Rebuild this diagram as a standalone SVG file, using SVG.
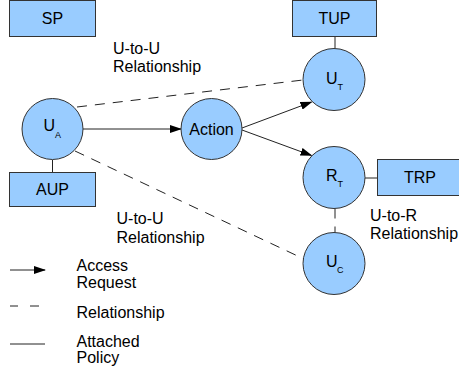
<svg xmlns="http://www.w3.org/2000/svg" width="459" height="370" viewBox="0 0 459 370">
<style>
.box{fill:#99ccff;stroke:#333;stroke-width:1}
.node{fill:#99ccff;stroke:#333;stroke-width:1}
.t{font-family:"Liberation Sans",Arial,sans-serif;font-size:16px;fill:#000}
.s{font-family:"Liberation Sans",Arial,sans-serif;font-size:9px;fill:#000}
.solid{stroke:#222;stroke-width:1;fill:none}
.dash{stroke:#222;stroke-width:1;fill:none;stroke-dasharray:10,8}
</style>
<defs>
<marker id="arr" markerWidth="12" markerHeight="8" refX="11" refY="4" orient="auto" markerUnits="userSpaceOnUse">
<path d="M0,0 L12,4 L0,8 Z" fill="#000"/>
</marker>
</defs>
<rect width="459" height="370" fill="#fff"/>
<g id="connectors">
<line class="solid" x1="52.5" y1="160" x2="52.5" y2="172"/>
<line class="solid" x1="335" y1="37" x2="335" y2="48.5"/>
<line class="solid" x1="365" y1="178" x2="377" y2="178"/>
<line class="dash" x1="335" y1="208.5" x2="335" y2="232.5"/>
<line class="dash" x1="77" y1="107" x2="303" y2="80"/>
<line class="dash" x1="75" y1="151" x2="304" y2="259"/>
<line class="solid" x1="83" y1="129" x2="181" y2="129" marker-end="url(#arr)"/>
<line class="solid" x1="242" y1="128" x2="311.5" y2="102" marker-end="url(#arr)"/>
<line class="solid" x1="242" y1="130" x2="311.5" y2="155.5" marker-end="url(#arr)"/>
</g>
<g id="SP"><rect class="box" x="9.5" y="0.5" width="86" height="36"/><text class="t" x="52.5" y="24" text-anchor="middle">SP</text></g>
<g id="AUP"><rect class="box" x="9.5" y="172.5" width="86" height="34"/><text class="t" x="52.5" y="195" text-anchor="middle">AUP</text></g>
<g id="TUP"><rect class="box" x="292.5" y="0.5" width="84" height="36"/><text class="t" x="334.5" y="24" text-anchor="middle">TUP</text></g>
<g id="TRP"><rect class="box" x="377.5" y="159.5" width="84" height="36"/><text class="t" x="420" y="183" text-anchor="middle">TRP</text></g>
<g id="UA"><circle class="node" cx="52.5" cy="129" r="30.5"/><text class="t" x="43.5" y="131">U</text><text class="s" x="55" y="138">A</text></g>
<g id="Action"><circle class="node" cx="211.5" cy="129" r="30.5"/><text class="t" x="211.5" y="135" text-anchor="middle">Action</text></g>
<g id="UT"><circle class="node" cx="334" cy="79.5" r="31"/><text class="t" x="326" y="83.5">U</text><text class="s" x="337.5" y="89.5">T</text></g>
<g id="RT"><circle class="node" cx="334" cy="177.5" r="31"/><text class="t" x="326" y="181">R</text><text class="s" x="337.5" y="187">T</text></g>
<g id="UC"><circle class="node" cx="334" cy="263.5" r="31"/><text class="t" x="326" y="266.5">U</text><text class="s" x="337" y="273">C</text></g>
<g id="labels">
<text class="t" x="113" y="54">U-to-U</text><text class="t" x="113" y="72">Relationship</text>
<text class="t" x="116.5" y="223.5">U-to-U</text><text class="t" x="116.5" y="242.5">Relationship</text>
<text class="t" x="370" y="220.5">U-to-R</text><text class="t" x="370" y="239">Relationship</text>
</g>
<g id="legend">
<line class="solid" x1="10" y1="270" x2="45" y2="270" marker-end="url(#arr)"/>
<text class="t" x="76.5" y="271">Access</text><text class="t" x="76.5" y="287.5">Request</text>
<line class="solid" x1="10" y1="306" x2="18" y2="306"/><line class="solid" x1="30" y1="306" x2="39" y2="306"/>
<text class="t" x="76.5" y="318">Relationship</text>
<line class="solid" x1="10" y1="344" x2="45" y2="344"/>
<text class="t" x="76.5" y="347">Attached</text><text class="t" x="76.5" y="363">Policy</text>
</g>
</svg>
